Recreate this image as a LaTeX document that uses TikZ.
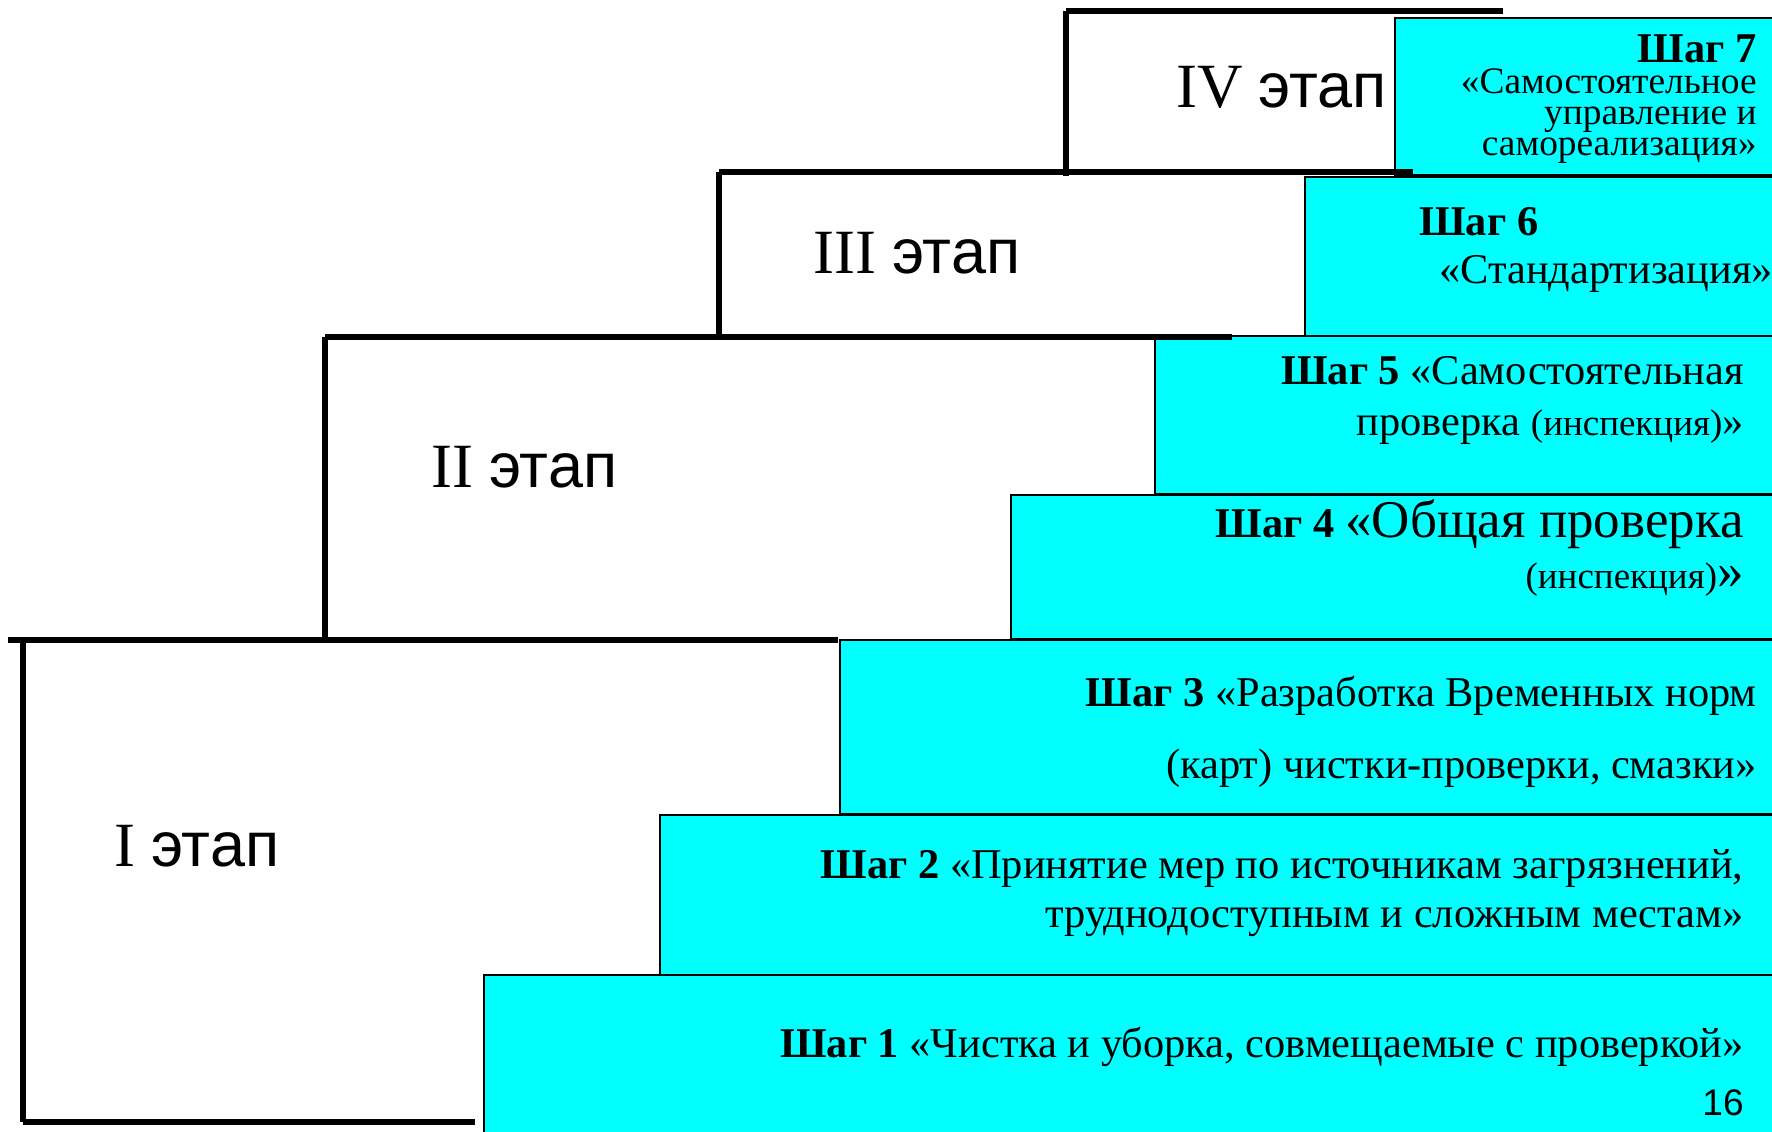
\documentclass[tikz,border=0pt]{standalone}
\usepackage{fontspec}
\setmainfont{Liberation Serif}
\newfontfamily\arialfont{Liberation Sans}
\definecolor{stepcyan}{RGB}{0,255,255}
\newcommand{\smallpart}{\fontsize{18.5}{18.5}\selectfont}
\begin{document}
\begin{tikzpicture}[x=0.5pt,y=-0.5pt,
  ledge/.style={line width=3pt},
  stepbox/.style={fill=stepcyan, draw=black, line width=1.2pt},
  stagelbl/.style={anchor=base west, inner sep=0pt, font=\fontsize{31.5}{31.5}\selectfont},
  txt/.style={anchor=base east, inner sep=0pt, font=\fontsize{21.2}{21.2}\selectfont},
  txtw/.style={anchor=base west, inner sep=0pt, font=\fontsize{21.2}{21.2}\selectfont},
  smalltxt/.style={anchor=base east, inner sep=0pt, font=\fontsize{18.7}{18.7}\selectfont},
]
\useasboundingbox (0,0) rectangle (1772,1131);
\fill[white] (0,0) rectangle (1772,1131);

% the seven steps, stacked as stairs
\begin{scope}
  \clip (0,0) rectangle (1772,1131);
  \path[stepbox] (1395,18)   rectangle (1790,175);
  \path[stepbox] (1305,177)  rectangle (1790,336);
  \path[stepbox] (1155,336)  rectangle (1790,494);
  \path[stepbox] (1011,495)  rectangle (1790,639);
  \path[stepbox] (840,640)   rectangle (1790,814);
  \path[stepbox] (660,815)   rectangle (1790,975);
  \path[stepbox] (484,975)   rectangle (1790,1150);
\end{scope}

% the four stages, outlined as ledges
\draw[ledge] (1066,176) -- (1066,11);
\draw[ledge] (1066,11) -- (1503,11);
\draw[ledge] (719,337) -- (719,172);
\draw[ledge] (719,172) -- (1413,172);
\draw[ledge] (325,640) -- (325,337);
\draw[ledge] (325,337) -- (1232,337);
\draw[ledge] (8,640) -- (838,640);
\draw[ledge] (23,640) -- (23,1122);
\draw[ledge] (23,1122) -- (475,1122);

% stage labels
\node[stagelbl] (st4) at (1176,107) {IV {\arialfont этап}};
\node[stagelbl] (st3) at (813,273)  {III {\arialfont этап}};
\node[stagelbl] (st2) at (431,487)  {II {\arialfont этап}};
\node[stagelbl] (st1) at (114,866)  {I {\arialfont этап}};

% step texts
\node[txt] (s1)  at (1744,1057) {\textbf{Шаг 1} «Чистка и уборка, совмещаемые с проверкой»};
\node[txt] (s2a) at (1744,878)  {\textbf{Шаг 2} «Принятие мер по источникам загрязнений,};
\node[txt] (s2b) at (1744,927)  {труднодоступным и сложным местам»};
\node[txt] (s3a) at (1757,706)  {\textbf{Шаг 3} «Разработка Временных норм};
\node[txt] (s3b) at (1757,778)  {(карт) чистки-проверки, смазки»};
\node[txt] (s4a) at (1744,537)  {\textbf{Шаг 4} {\fontsize{26.5}{26.5}\selectfont «Общая проверка}};
\node[txt] (s4b) at (1744,588)  {{\smallpart (инспекция)}{\fontsize{26.5}{26.5}\selectfont »}};
\node[txt] (s5a) at (1744,384)  {\textbf{Шаг 5} «Самостоятельная};
\node[txt] (s5b) at (1744,435)  {проверка {\smallpart (инспекция)}»};
\node[txtw] (s6a) at (1419,235) {\textbf{Шаг 6}};
\node[txtw] (s6b) at (1439,283) {«Стандартизация»};
\node[txt] (s7a) at (1757,62)  {\textbf{Шаг 7}};
\node[smalltxt] (s7b) at (1757,93)  {«Самостоятельное};
\node[smalltxt] (s7c) at (1757,124) {управление и};
\node[smalltxt] (s7d) at (1757,155) {самореализация»};

% page number
\node[anchor=base east, inner sep=0pt, font=\arialfont\fontsize{18.5}{18.5}\selectfont] (pg) at (1744,1115) {16};
\end{tikzpicture}
\end{document}
